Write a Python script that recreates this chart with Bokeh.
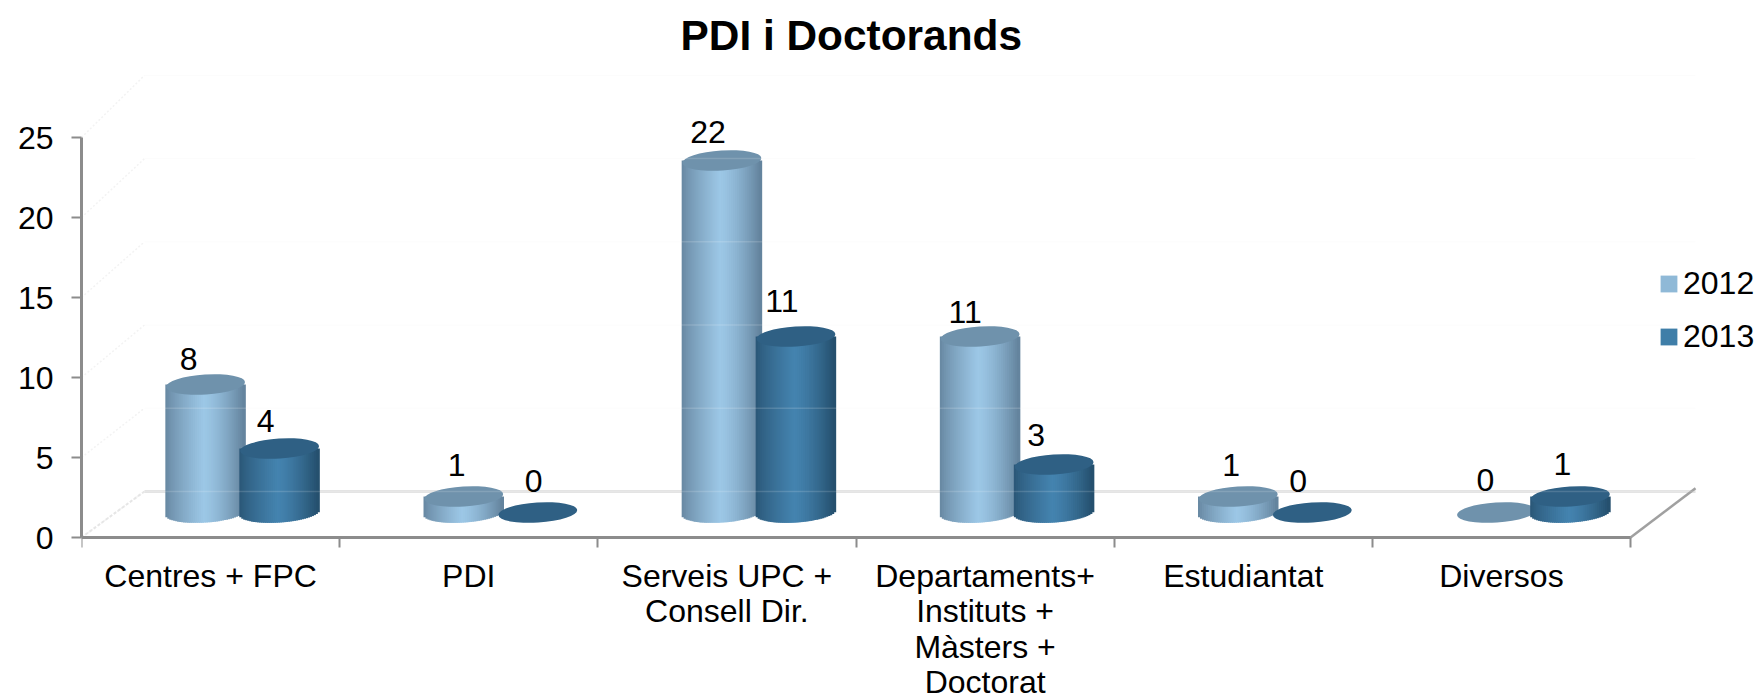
from bokeh.plotting import figure
from bokeh.embed import file_html
from bokeh.resources import INLINE
from bokeh.core.properties import value
from bokeh.models import (ColumnDataSource, FixedTicker, LinearAxis, Legend, LegendItem,
                          Range1d, Title)
import math

TITLE = "PDI i Doctorands"
categories = ["Centres + FPC", "PDI", "Serveis UPC +\nConsell Dir.",
              "Departaments+\nInstituts +\nMàsters +\nDoctorat", "Estudiantat", "Diversos"]
series_names = ["2012", "2013"]
values_2012 = [8, 1, 22, 11, 1, 0]
values_2013 = [4, 0, 11, 3, 0, 1]
y_ticks = [0, 5, 10, 15, 20, 25]

# style / layout
FONT = "Liberation Sans"
FS = "32px"
PX_X, PX_Y = 258.17, 16.0        # px per unit of the scales
DEPTH_Y = 1.56                    # pseudo-3D: base of bars above zero line (y units)
WALL_Y = 2.88                     # back wall foot
WALL_X = 63 / PX_X                # depth shift of wall (x units)
WALL_STEP = 1.04
BAR_W = 79
BAR_SHIFT = 32 / PX_X
BAR_SEP = 37 / PX_X
ELL_H = 20
TILT = 0.065
STRIPS = 40
dx_2012 = [-17, -7, -14, -15, -7, -11]
dx_2013 = [-14, -4, -14, -18, -14, -8]
dy_2012 = [26, 32, 29, 25, 32, 33]
dy_2013 = [28, 32, 36, 30, 32, 33]
look = {
    "2012": dict(edgeL=(102, 134, 160), mid=(156, 199, 230), edgeR=(98, 130, 156),
                 top="#6f92ac", swatch="#8fb9d7"),
    "2013": dict(edgeL=(42, 86, 118), mid=(68, 131, 175), edgeR=(36, 78, 108),
                 top="#2f6084", swatch="#3f7ea8"),
}

W, H = 1758, 700
FRAME_L, FRAME_T, FRAME_B = 81, 66, 537
p = figure(width=W, height=H, output_backend="svg", toolbar_location=None,
           x_axis_type=None, y_axis_type=None,
           min_border_left=FRAME_L, min_border_right=0, min_border_top=FRAME_T,
           min_border_bottom=0,
           x_range=Range1d(0, (W - FRAME_L) / PX_X),
           y_range=Range1d(-(H - FRAME_B) / PX_Y, (FRAME_B - FRAME_T) / PX_Y),
           background_fill_color="white", border_fill_color="white", outline_line_color=None)
p.xgrid.visible = False
p.ygrid.visible = False

p.title = Title(text=TITLE, text_font=FONT, text_font_size="42.4px", text_font_style="bold",
                text_color="black", align="left", offset=599, standoff=15)

# axes
n = len(categories)
bounds = list(range(n + 1))
centers = [i + 0.5 for i in range(n)]
xax = LinearAxis(ticker=FixedTicker(ticks=centers, minor_ticks=bounds), bounds=(0, n),
                 fixed_location=0,
                 major_label_overrides={c: t for c, t in zip(centers, categories)},
                 major_tick_out=0, major_tick_in=0, minor_tick_out=10, minor_tick_in=0,
                 minor_tick_line_color="#8c8c8c", minor_tick_line_width=2,
                 axis_line_color="#8c8c8c", axis_line_width=3,
                 major_label_text_font=FONT, major_label_text_font_size=FS,
                 major_label_text_color="black", major_label_text_line_height=0.99,
                 major_label_standoff=10, major_label_orientation="horizontal")
p.add_layout(xax, "below")
yax = LinearAxis(ticker=FixedTicker(ticks=y_ticks), bounds=(0, 25),
                 major_tick_out=10, major_tick_in=0, major_tick_line_color="#8c8c8c",
                 major_tick_line_width=2, minor_tick_line_color=None,
                 axis_line_color="#8c8c8c", axis_line_width=3,
                 major_label_text_font=FONT, major_label_text_font_size=FS,
                 major_label_text_color="black", major_label_standoff=18)
p.add_layout(yax, "left")

# pseudo-3D floor and walls
wall_levels = [WALL_Y + t * WALL_STEP for t in y_ticks]
p.multi_line([[0, WALL_X] for _ in y_ticks], [[t, l] for t, l in zip(y_ticks, wall_levels)],
             line_color="#f3f3f3", line_width=1.5, line_dash="2 2")
p.multi_line([[WALL_X, n + WALL_X + 2 / PX_X] for _ in y_ticks[1:]], [[l, l] for l in wall_levels[1:]],
             line_color="#fcfcfc", line_width=1)
p.line([0, WALL_X], [0, WALL_Y], line_color="#e6e6e6", line_width=2, line_dash="3 2")
p.line([WALL_X, n + WALL_X + 2 / PX_X], [WALL_Y, WALL_Y], line_color="#e3e3e3", line_width=3)
p.line([n, n + WALL_X + 2 / PX_X], [0, WALL_Y + 0.2], line_color="#a0a0a0", line_width=2.5)


def mix(a, b, t):
    return "#%02x%02x%02x" % tuple(round(a[i] + (b[i] - a[i]) * t) for i in range(3))


def shade(st, t):
    # t in 0..1 across the cylinder, brightest a little left of the middle
    peak = 0.48
    if t < peak:
        u = t / peak
        return mix(st["edgeL"], st["mid"], u ** 0.8)
    u = (t - peak) / (1 - peak)
    return mix(st["mid"], st["edgeR"], u ** 1.4)


bar_w_data = BAR_W / PX_X
half_h = ELL_H / 2 / PX_Y
labels = dict(x=[], y=[], text=[], dx=[], dy=[])
handles = {}
for name, vals, sign, dxs, dys in ((series_names[0], values_2012, -1, dx_2012, dy_2012),
                                   (series_names[1], values_2013, 1, dx_2013, dy_2013)):
    st = look[name]
    bx = [c + BAR_SHIFT + sign * BAR_SEP for c in centers]
    xs, tops, bots, cols = [], [], [], []
    for cx, v in zip(bx, vals):
        if v <= 0:
            continue
        for k in range(STRIPS):
            t = (k + 0.5) / STRIPS
            s = 2 * t - 1
            xs.append(cx + s * bar_w_data / 2)
            tops.append(DEPTH_Y + v)
            curve = half_h * math.sqrt(max(0, 1 - s * s))
            bots.append(DEPTH_Y + s * TILT * (BAR_W / 2) / PX_Y - curve)
            cols.append(shade(st, t))
    src = ColumnDataSource(dict(x=xs, top=tops, bottom=bots, color=cols))
    p.vbar(x="x", top="top", bottom="bottom", width=bar_w_data / STRIPS + 1.5 / PX_X,
           source=src, fill_color="color", line_color=None)
    top_src = ColumnDataSource(dict(x=bx, y=[DEPTH_Y + v for v in vals]))
    p.ellipse(x="x", y="y", width=BAR_W, height=ELL_H, width_units="screen", height_units="screen",
              angle=TILT, source=top_src, fill_color=st["top"], line_color=None)
    labels["x"] += bx
    labels["y"] += [DEPTH_Y + v for v in vals]
    labels["text"] += [str(v) for v in vals]
    labels["dx"] += dxs
    labels["dy"] += [-d for d in dys]
    # off-range stand-in: only its swatch in the legend is visible
    handles[name] = p.vbar(x=[-5], top=[1], bottom=[0], width=1, fill_color=st["swatch"], line_color=None)

# seams of the wall gridlines seen through the bars
p.multi_line([[WALL_X, n + WALL_X] for _ in wall_levels], [[l, l] for l in wall_levels],
             line_color="white", line_alpha=0.15, line_width=1.5)

p.text(x="x", y="y", text="text", x_offset="dx", y_offset="dy", source=ColumnDataSource(labels),
       text_font=value(FONT), text_font_size=FS, text_color="black",
       text_align="center", text_baseline="middle")

legend = Legend(items=[LegendItem(label=value(s), renderers=[handles[s]]) for s in series_names],
                location=(1577, 345), orientation="vertical", glyph_width=21, glyph_height=21,
                label_text_font=FONT, label_text_font_size=FS, label_text_color="black",
                label_standoff=4, spacing=16, padding=0, margin=0,
                border_line_color=None, background_fill_alpha=0, label_height=36)
p.add_layout(legend, "center")

open("out.html", "w").write(file_html(p, INLINE))
